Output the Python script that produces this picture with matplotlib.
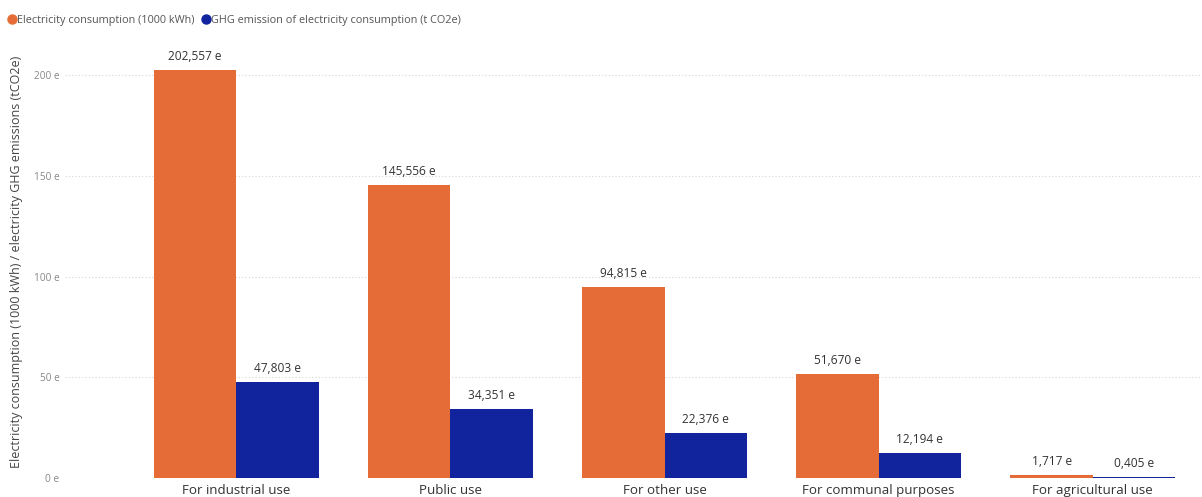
import matplotlib
matplotlib.use("Agg")
import matplotlib.pyplot as plt
from matplotlib.lines import Line2D
import numpy as np

categories = ["For industrial use", "Public use", "For other use",
              "For communal purposes", "For agricultural use"]
consumption = [202.557, 145.556, 94.815, 51.670, 1.717]
emissions = [47.803, 34.351, 22.376, 12.194, 0.405]
y_ticks = [0, 50, 100, 150, 200]

ORANGE = "#E66C37"
BLUE = "#12239E"
FONT = "Open Sans"
plt.rcParams["font.family"] = [FONT, "DejaVu Sans"]


def fmt(v):
    # comma decimal separator, three decimals
    return f"{v:.3f}".replace(".", ",") + " e"


fig = plt.figure(figsize=(12.02, 4.97), dpi=100)
ax = fig.add_axes([65 / 1202, 19 / 497, 1 - 65 / 1202, (478 - 45) / 497])

x = np.arange(len(categories))
w = 0.385
ax.bar(x - w / 2, consumption, w, color=ORANGE, zorder=2)
ax.bar(x + w / 2, emissions, w, color=BLUE, zorder=2)

for xi, v in zip(x - w / 2, consumption):
    ax.annotate(fmt(v), (xi, v), xytext=(0, 5), textcoords="offset points",
                ha="center", va="bottom", fontsize=8.6, color="#333333")
for xi, v in zip(x + w / 2, emissions):
    ax.annotate(fmt(v), (xi, v), xytext=(0, 5), textcoords="offset points",
                ha="center", va="bottom", fontsize=8.6, color="#333333")

ax.set_xlim(-0.80, 4.51)
ax.set_ylim(0, 215)
ax.set_yticks(y_ticks)
ax.set_yticklabels([f"{t} e" for t in y_ticks], fontsize=7.3, color="#888888")
ax.set_xticks(x)
ax.set_xticklabels(categories, fontsize=9.6, color="#333333")
ax.tick_params(axis="both", length=0)
ax.tick_params(axis="x", pad=4)
ax.tick_params(axis="y", pad=4)
ax.grid(axis="y", color="#d5d5d5", linestyle=(0, (1, 2)), linewidth=0.8, zorder=0)
for s in ax.spines.values():
    s.set_visible(False)

ax.set_ylabel("Electricity consumption (1000 kWh) / electricity GHG emissions (tCO2e)",
              fontsize=9, color="#444444")
ax.yaxis.set_label_coords(-0.037, 0.5)

handles = [Line2D([], [], marker="o", linestyle="", color=ORANGE, markersize=6.5),
           Line2D([], [], marker="o", linestyle="", color=BLUE, markersize=6.5)]
fig.legend(handles, ["Electricity consumption (1000 kWh)",
                     "GHG emission of electricity consumption (t CO2e)"],
           loc="center left", bbox_to_anchor=(0.0, 1 - 20 / 497), ncol=2,
           frameon=False, fontsize=7.8, handletextpad=0.0, columnspacing=0.5,
           handlelength=1.0, borderaxespad=0.2, labelcolor="#555555")

fig.savefig("out.png", dpi=100)
